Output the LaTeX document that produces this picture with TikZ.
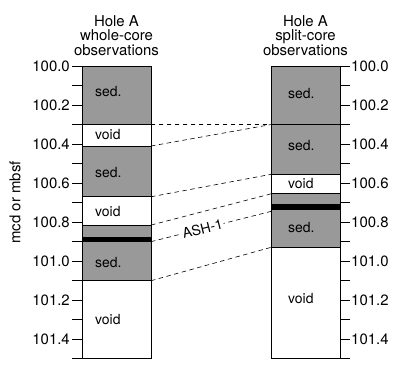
\documentclass[tikz,border=0pt]{standalone}
\usepackage{fontspec}
\setmainfont{TeX Gyre Heros}
\tikzset{
    sedbox/.style={draw=black,fill=black!40,line width=0.8pt},
    voidbox/.style={draw=black,fill=white,line width=0.8pt},
    ashband/.style={fill=black,draw=none},
    corr/.style={dash pattern=on 4.5pt off 3.5pt,line width=0.6pt},
    unitlabel/.style={font=\fontsize{14}{16}\selectfont,inner sep=0pt},
    depthtick/.style={line width=0.8pt},
    depthlabel/.style={font=\fontsize{15}{17}\selectfont,inner sep=1pt},
    coltitle/.style={font=\fontsize{15}{14.5}\selectfont,align=center,inner sep=0pt},
}

\begin{document}
\begin{tikzpicture}[x=1bp,y=-195.2bp]
\useasboundingbox (0,-0.3381) rectangle (402,1.5574);
% whole-core column
\draw[sedbox] (82,0) rectangle (151,0.30);
\draw[voidbox] (82,0.30) rectangle (151,0.41);
\draw[sedbox] (82,0.41) rectangle (151,0.67);
\draw[voidbox] (82,0.67) rectangle (151,0.815);
\draw[sedbox] (82,0.815) rectangle (151,1.10);
\fill[ashband] (82,0.878) rectangle (151,0.90);
\draw[voidbox] (82,1.10) rectangle (151,1.50);
\node[unitlabel,anchor=west] (ws1) at (95,0.132) {sed.};
\node[unitlabel,anchor=west] (wv1) at (95,0.353) {void};
\node[unitlabel,anchor=west] (ws2) at (95,0.547) {sed.};
\node[unitlabel,anchor=west] (wv2) at (95,0.746) {void};
\node[unitlabel,anchor=west] (ws3) at (95,1.008) {sed.};
\node[unitlabel,anchor=west] (wv3) at (95,1.301) {void};
% split-core column
\draw[sedbox] (271,0) rectangle (340,0.30);
\draw[sedbox] (271,0.30) rectangle (340,0.555);
\draw[voidbox] (271,0.555) rectangle (340,0.652);
\draw[sedbox] (271,0.652) rectangle (340,0.929);
\fill[ashband] (271,0.709) rectangle (340,0.738);
\draw[voidbox] (271,0.929) rectangle (340,1.50);
\node[unitlabel,anchor=west] (ss1) at (288,0.143) {sed.};
\node[unitlabel,anchor=west] (ss2) at (288,0.405) {sed.};
\node[unitlabel,anchor=west] (sv1) at (288,0.601) {void};
\node[unitlabel,anchor=west] (ss3) at (288,0.825) {sed.};
\node[unitlabel,anchor=west] (sv2) at (288,1.189) {void};
% depth scales
\foreach \i in {0,...,15}{
    \draw[depthtick] (72,\i/10) -- (82,\i/10);
    \draw[depthtick] (340,\i/10) -- (350,\i/10);
}
\foreach \d/\t in {0/100.0,2/100.2,4/100.4,6/100.6,8/100.8,10/101.0,12/101.2,14/101.4}{
    \node[depthlabel,anchor=east] (wd\d) at (71,\d/10) {\t};
    \node[depthlabel,anchor=west] (sd\d) at (350,\d/10) {\t};
}
\node[depthlabel,rotate=90] (unit) at (15,0.699) {mcd or mbsf};
\node[coltitle] (wtitle) at (116.5,-0.157) {Hole A\\whole-core\\observations};
\node[coltitle] (stitle) at (305.5,-0.157) {Hole A\\split-core\\observations};
% correlation lines
\coordinate (wc1) at (151,0.30);  \coordinate (sc1) at (271,0.30);
\coordinate (wc2) at (151,0.41);  \coordinate (sc2) at (271,0.30);
\coordinate (wc3) at (151,0.67);  \coordinate (sc3) at (271,0.555);
\coordinate (wc4) at (151,0.815); \coordinate (sc4) at (271,0.655);
\coordinate (wc5) at (151,0.90);  \coordinate (sc5) at (271,0.745);
\coordinate (wc6) at (151,1.10);  \coordinate (sc6) at (271,0.929);
\foreach \k in {1,2,3,4,6}
    \draw[corr] (wc\k) -- (sc\k);
\draw[corr] (wc5) -- node[sloped,pos=0.43,fill=white,inner sep=1pt,font=\fontsize{14}{16}\selectfont] (ash) {ASH-1} (sc5);
%\draw[corr] (wc1) -- (sc2);
\end{tikzpicture}
\end{document}
